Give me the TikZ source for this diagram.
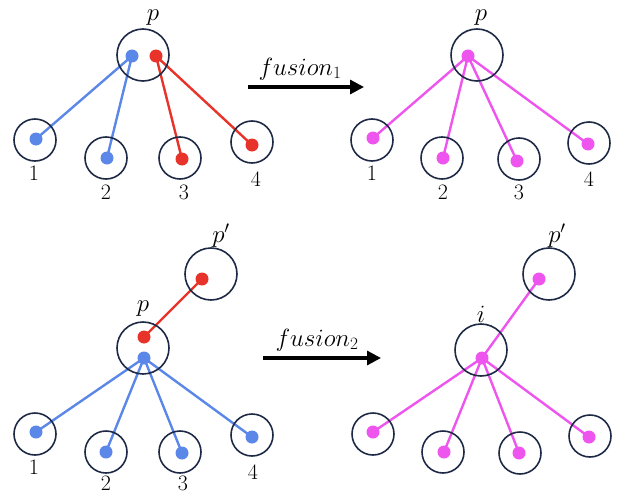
\documentclass[tikz,border=0pt]{standalone}
\usetikzlibrary{backgrounds,arrows.meta}
\definecolor{ringc}{HTML}{1E2A45}
\definecolor{bluec}{HTML}{5A87E8}
\definecolor{redc}{HTML}{E8332A}
\definecolor{magc}{HTML}{EE55EE}
\tikzset{
  bigring/.style={circle,draw=ringc,line width=1.6pt,minimum size=52pt,inner sep=0pt},
  smallring/.style={circle,draw=ringc,line width=1.6pt,minimum size=42pt,inner sep=0pt},
  dot/.style={circle,inner sep=0pt,minimum size=13pt},
  bdot/.style={dot,fill=bluec},
  rdot/.style={dot,fill=redc},
  mdot/.style={dot,fill=magc},
  edge/.style={line width=2.4pt},
  lbl/.style={font=\fontsize{22}{26}\selectfont,inner sep=0pt},
  mlbl/.style={font=\fontsize{25}{29}\selectfont,inner sep=0pt},
  fusarrow/.style={line width=3.2pt,-{Triangle[length=14pt,width=14pt]}},
}
\begin{document}
\begin{tikzpicture}[x=1pt,y=-1pt]
\useasboundingbox (0,0) rectangle (626,495);
% ===== top-left =====
\node[bigring] (TLp) at (143,55) {};
\node[bdot] (TLpb) at (132,56) {};
\node[rdot] (TLpr) at (156,56) {};
\node[mlbl] (TLpl) at (153,18) {$p$};
\node[smallring] (TLc1) at (35,140) {};
\node[smallring] (TLc2) at (106,158) {};
\node[smallring] (TLc3) at (180,158) {};
\node[smallring] (TLc4) at (252,142) {};
\node[bdot] (TLd1) at (36,139) {};
\node[bdot] (TLd2) at (107,158) {};
\node[rdot] (TLd3) at (182,159) {};
\node[rdot] (TLd4) at (252,145) {};
\node[lbl] (TLl1) at (34,173) {1};
\node[lbl] (TLl2) at (106,192) {2};
\node[lbl] (TLl3) at (184,192) {3};
\node[lbl] (TLl4) at (256,179) {4};
\begin{scope}[on background layer]
\draw[edge,bluec] (TLpb.center) -- (TLd1.center);
\draw[edge,bluec] (TLpb.center) -- (TLd2.center);
\draw[edge,redc] (TLpr.center) -- (TLd3.center);
\draw[edge,redc] (TLpr.center) -- (TLd4.center);
\end{scope}
% arrow 1
\coordinate (A1s) at (248,87);
\coordinate (A1e) at (364,87);
\draw[fusarrow] (A1s) -- (A1e);
\node[font=\fontsize{25}{29}\selectfont,inner sep=0pt] (A1t) at (300,69) {$fusion_1$};
% ===== top-right =====
\node[bigring] (TRp) at (477,55) {};
\node[mdot] (TRpd) at (468,56) {};
\node[mlbl] (TRpl) at (481,18) {$p$};
\node[smallring] (TRc1) at (372,140) {};
\node[smallring] (TRc2) at (442,158) {};
\node[smallring] (TRc3) at (519,159) {};
\node[smallring] (TRc4) at (589,143) {};
\node[mdot] (TRd1) at (373,138) {};
\node[mdot] (TRd2) at (443,158) {};
\node[mdot] (TRd3) at (517,161) {};
\node[mdot] (TRd4) at (588,144) {};
\node[lbl] (TRl1) at (372,173) {1};
\node[lbl] (TRl2) at (443,192) {2};
\node[lbl] (TRl3) at (519,192) {3};
\node[lbl] (TRl4) at (589,179) {4};
\begin{scope}[on background layer]
\foreach \k in {1,2,3,4}{\draw[edge,magc] (TRpd.center) -- (TRd\k.center);}
\end{scope}
% ===== bottom-left =====
\node[bigring] (BLq) at (211,274) {};
\node[rdot] (BLqd) at (202,279) {};
\node[mlbl] (BLql) at (221,236) {$p'$};
\node[bigring] (BLp) at (143,348) {};
\node[rdot] (BLpr) at (144,337) {};
\node[bdot] (BLpb) at (144,358) {};
\node[mlbl] (BLpl) at (143,309) {$p$};
\node[smallring] (BLc1) at (35,434) {};
\node[smallring] (BLc2) at (106,452) {};
\node[smallring] (BLc3) at (180,452) {};
\node[smallring] (BLc4) at (252,435) {};
\node[bdot] (BLd1) at (36,432) {};
\node[bdot] (BLd2) at (106,452) {};
\node[bdot] (BLd3) at (182,453) {};
\node[bdot] (BLd4) at (252,437) {};
\node[lbl] (BLl1) at (34,467) {1};
\node[lbl] (BLl2) at (106,483) {2};
\node[lbl] (BLl3) at (183,483) {3};
\node[lbl] (BLl4) at (253,472) {4};
\begin{scope}[on background layer]
\draw[edge,redc] (BLqd.center) -- (BLpr.center);
\foreach \k in {1,2,3,4}{\draw[edge,bluec] (BLpb.center) -- (BLd\k.center);}
\end{scope}
% arrow 2
\coordinate (A2s) at (263,358);
\coordinate (A2e) at (381,358);
\draw[fusarrow] (A2s) -- (A2e);
\node[font=\fontsize{25}{29}\selectfont,inner sep=0pt] (A2t) at (317,340) {$fusion_2$};
% ===== bottom-right =====
\node[bigring] (BRq) at (549,274) {};
\node[mdot] (BRqd) at (539,279) {};
\node[mlbl] (BRql) at (557,236) {$p'$};
\node[bigring] (BRi) at (481,350) {};
\node[mdot] (BRid) at (482,358) {};
\node[mlbl,font=\fontsize{28}{32}\selectfont] (BRil) at (481,314) {$i$};
\node[smallring] (BRc1) at (373,434) {};
\node[smallring] (BRc2) at (443,452) {};
\node[smallring] (BRc3) at (520,453) {};
\node[smallring] (BRc4) at (590,436) {};
\node[mdot] (BRd1) at (373,432) {};
\node[mdot] (BRd2) at (444,452) {};
\node[mdot] (BRd3) at (519,453) {};
\node[mdot] (BRd4) at (589,437) {};
\begin{scope}[on background layer]
\draw[edge,magc] (BRqd.center) -- (BRid.center);
\foreach \k in {1,2,3,4}{\draw[edge,magc] (BRid.center) -- (BRd\k.center);}
\end{scope}
\end{tikzpicture}
\end{document}
